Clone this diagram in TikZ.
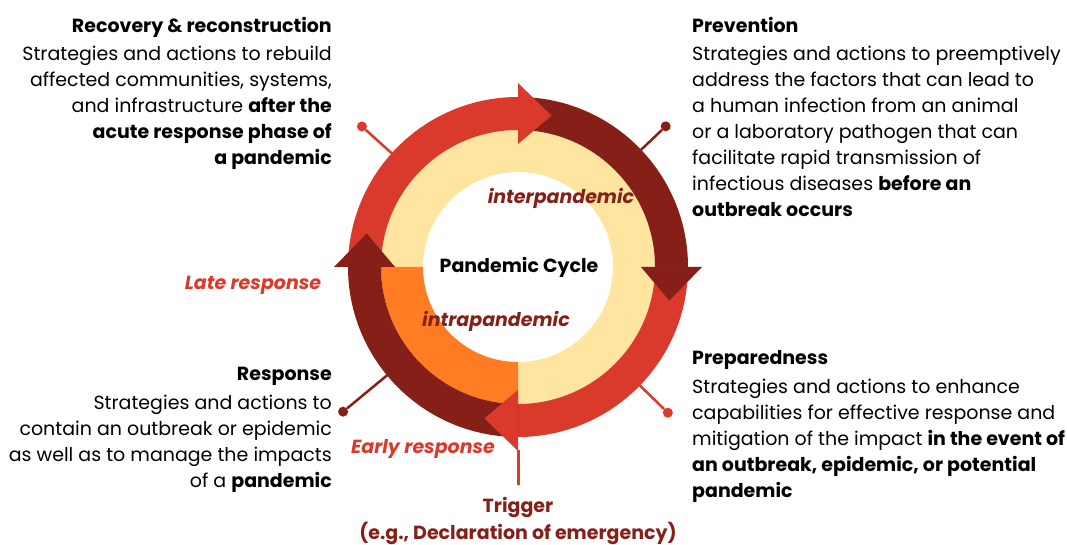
\documentclass[tikz,border=0pt]{standalone}
\usepackage{fontspec}
\setmainfont{Poppins}
\usepackage{xcolor}
\usepackage{tikz}
\usetikzlibrary{positioning}
\definecolor{cyclered}{HTML}{D93A2B}
\definecolor{cycledark}{HTML}{861F18}
\definecolor{cycleyellow}{HTML}{FFE5A0}
\definecolor{cycleorange}{HTML}{FF7C22}
% colour, from angle, to angle, inner radius, outer radius
\newcommand{\ringpart}[5]{%
	\fill[#1] (#2:#5) arc[start angle=#2, end angle=#3, radius=#5]
		-- (#3:#4) arc[start angle=#3, end angle=#2, radius=#4] -- cycle;}
% colour, angle of the base
\newcommand{\ringhead}[2]{%
	\fill[#1] (#2:123) -- (#2:184) -- (#2-12.5:155) -- cycle;}
\tikzset{
	blurb/.style={font=\fontsize{19}{26}\selectfont, inner sep=0pt},
	tag/.style={font=\fontsize{19}{20}\selectfont\bfseries\itshape, inner sep=0pt},
	pin/.style={circle, inner sep=0pt, minimum size=10pt},
	link/.style={line width=2.5pt},
}

\begin{document}
\begin{tikzpicture}[x=1pt, y=1pt]
	\useasboundingbox (0,0) rectangle (1067,544);

	\begin{scope}[shift={(518,277)}]
		\ringpart{cycleyellow}{-90}{180}{95}{137}
		\ringpart{cycleorange}{180}{270}{95}{137}

		\ringpart{cyclered}{180}{90}{137}{170}
		\ringpart{cycledark}{90}{0}{137}{170}
		\ringpart{cyclered}{0}{-90}{137}{170}
		\ringpart{cycledark}{-90}{-180}{137}{170}
		\ringhead{cyclered}{90}
		\ringhead{cycledark}{0}
		\ringhead{cyclered}{-90}
		\ringhead{cycledark}{180}

		\node (recpin) at (138:210) [pin, fill=cyclered] {};
		\coordinate (recfoot) at (138:170);
		\node (prevpin) at (43.6:204) [pin, fill=cycledark] {};
		\coordinate (prevfoot) at (43.6:170);
		\node (prepin) at (-44.2:209) [pin, fill=cyclered] {};
		\coordinate (prefoot) at (-44.2:170);
		\node (resppin) at (219.6:227) [pin, fill=cycledark] {};
		\coordinate (respfoot) at (219.6:170);
		\coordinate (trigfoot) at (-90:183);
	\end{scope}

	\draw[link, cyclered] (recfoot) -- (recpin);
	\draw[link, cycledark] (prevfoot) -- (prevpin);
	\draw[link, cyclered] (prefoot) -- (prepin);
	\draw[link, cycledark] (respfoot) -- (resppin);

	\node (cycle) at (519,277) [font=\fontsize{19}{20}\selectfont\bfseries] {Pandemic Cycle};
	\node (inter) at (561,346) [tag, text=cycledark] {interpandemic};
	\node (intra) at (496,223) [tag, text=cycledark] {intrapandemic};
	\node (late) at (253,259) [tag, text=cyclered] {Late response};
	\node (early) at (423,95) [tag, text=cyclered] {Early response};

	\node (trigger) at (518,47) [anchor=north, align=center, text=cycledark,
		font=\fontsize{19}{27}\selectfont\bfseries, inner sep=0pt]
		{Trigger\\(e.g., Declaration of emergency)};
	\draw[line width=3pt, cyclered, shorten >=12pt] (trigfoot) -- (trigger.north);

	\node (recovery) at (332,527) [blurb, anchor=north east, align=right]
		{\textbf{Recovery \& reconstruction}\\[2pt]
		Strategies and actions to rebuild\\
		affected communities, systems,\\
		and infrastructure \textbf{after the}\\
		\textbf{acute response phase of}\\
		\textbf{a pandemic}};
	\node (prevention) at (692,527) [blurb, anchor=north west, align=left]
		{\textbf{Prevention}\\[2pt]
		Strategies and actions to preemptively\\
		address the factors that can lead to\\
		a human infection from an animal\\
		or a laboratory pathogen that can\\
		facilitate rapid transmission of\\
		infectious diseases \textbf{before an}\\
		\textbf{outbreak occurs}};
	\node (preparedness) at (692,194) [blurb, anchor=north west, align=left]
		{\textbf{Preparedness}\\[3pt]
		Strategies and actions to enhance\\
		capabilities for effective response and\\
		mitigation of the impact \textbf{in the event of}\\
		\textbf{an outbreak, epidemic, or potential}\\
		\textbf{pandemic}};
	\node (response) at (332,177) [blurb, anchor=north east, align=right]
		{\textbf{Response}\\[3pt]
		Strategies and actions to\\
		contain an outbreak or epidemic\\
		as well as to manage the impacts\\
		of a \textbf{pandemic}};
\end{tikzpicture}
\end{document}
